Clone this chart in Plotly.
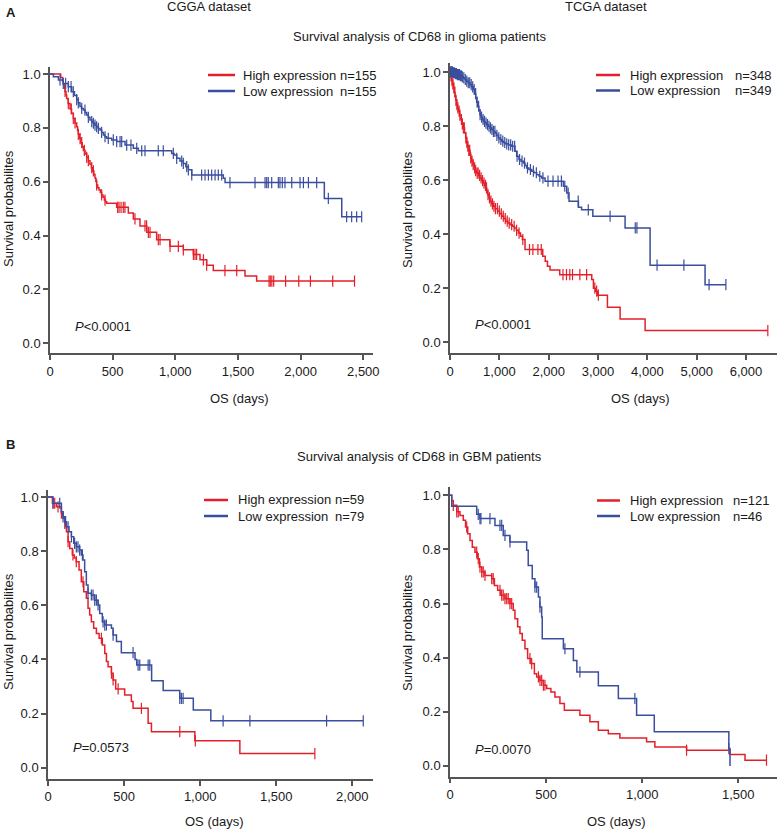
import bisect
import plotly.graph_objects as go

# ---------------- DATA ----------------
# Panel A, CGGA dataset (glioma)
tl_high_t = [0, 85, 100, 106, 115, 120, 128, 133, 145, 160, 172, 186, 200, 213, 220, 226, 237, 247, 257, 266,
             280, 293, 306, 319, 330, 340, 350, 359, 366, 372, 381, 391, 402, 412, 423, 434, 443, 452,
             532, 625, 665, 718, 772, 851, 957, 1064, 1144, 1197, 1250, 1303, 1556, 1649]
tl_high_s = [1.0, 0.987, 0.974, 0.961, 0.948, 0.935, 0.922, 0.909, 0.890, 0.870, 0.854, 0.835, 0.818, 0.804, 0.790, 0.776, 0.760, 0.745, 0.730, 0.716,
             0.703, 0.690, 0.678, 0.665, 0.652, 0.640, 0.627, 0.614, 0.601, 0.588, 0.578, 0.569, 0.560, 0.551, 0.542, 0.532, 0.526, 0.520,
             0.505, 0.484, 0.462, 0.436, 0.412, 0.385, 0.360, 0.347, 0.330, 0.310, 0.290, 0.270, 0.250, 0.231]
tl_high_c = [120, 146, 170, 186, 200, 226, 240, 253, 274, 293, 306, 333, 346, 372, 412, 439, 540, 551, 567, 585, 598,
             678, 758, 771, 785, 798, 864, 878, 958, 1024, 1064, 1144, 1157, 1170, 1224, 1250, 1396, 1490,
             1748, 1758, 1770, 1785, 1880, 1985, 2078, 2256, 2430]
tl_low_t = [0, 27, 67, 106, 146, 173, 195, 213, 226, 239, 252, 266, 280, 293, 306, 319, 333, 346, 359, 372,
            386, 399, 412, 426, 439, 452, 492, 532, 599, 665, 705, 971, 990, 1011, 1037, 1064, 1084, 1104, 1131, 1383,
            1397, 2189, 2328]
tl_low_s = [1.0, 0.99, 0.978, 0.965, 0.953, 0.934, 0.92, 0.905, 0.893, 0.879, 0.872, 0.866, 0.857, 0.848, 0.839, 0.829, 0.823, 0.817, 0.81, 0.804,
            0.798, 0.792, 0.783, 0.773, 0.767, 0.761, 0.755, 0.749, 0.736, 0.724, 0.715, 0.705, 0.699, 0.687, 0.677, 0.668, 0.656, 0.644, 0.625, 0.613,
            0.597, 0.538, 0.470]
tl_low_c = [80, 106, 125, 146, 168, 186, 213, 226, 253, 279, 306, 333, 346, 359, 372, 386, 412, 439, 465, 505, 532, 559, 572,
            612, 646, 692, 732, 758, 864, 904, 984, 1011, 1051, 1064, 1091, 1104, 1131, 1210, 1237, 1264, 1290, 1317, 1343, 1370,
            1436, 1636, 1716, 1729, 1742, 1769, 1822, 1835, 1854, 1875, 1929, 1995, 2022, 2062, 2128, 2221, 2367, 2407, 2447, 2487]

# Panel A, TCGA dataset (glioma)
tr_high_t = [0, 15, 34, 50, 68, 85, 101, 118, 135, 150, 169, 195, 223, 245, 270, 295, 318, 338, 358, 380,
             406, 420, 439, 465, 493, 515, 541, 575, 608, 640, 676, 700, 723, 745, 764, 790, 811, 845, 879, 920,
             967, 1005, 1048, 1090, 1129, 1170, 1217, 1260, 1305, 1345, 1386, 1430, 1467, 1521,
             1880, 1930, 1975, 2028, 2224, 2873, 2907, 2954, 2995, 3191, 3448, 3955]
tr_high_s = [1.0, 0.985, 0.968, 0.955, 0.941, 0.925, 0.91, 0.895, 0.879, 0.867, 0.855, 0.84, 0.824, 0.808, 0.793, 0.775, 0.756, 0.74, 0.725, 0.71,
             0.694, 0.682, 0.67, 0.657, 0.645, 0.635, 0.626, 0.617, 0.608, 0.598, 0.589, 0.58, 0.571, 0.558, 0.546, 0.534, 0.522, 0.512, 0.503, 0.494,
             0.485, 0.475, 0.466, 0.457, 0.448, 0.441, 0.435, 0.429, 0.423, 0.414, 0.404, 0.392, 0.38, 0.343,
             0.318, 0.30, 0.281, 0.267, 0.25, 0.232, 0.2, 0.189, 0.174, 0.129, 0.086, 0.043]
tr_high_c = [20, 40, 60, 80, 100, 120, 140, 160, 185, 200, 230, 250, 270, 290, 320, 340, 360, 380, 400, 420, 445, 470,
             500, 520, 550, 570, 600, 630, 660, 690, 720, 740, 770, 800, 830, 860, 890, 920, 960, 1000, 1040, 1080,
             1120, 1160, 1200, 1250, 1300, 1350, 1400, 1476, 1612, 1680, 1782, 1850, 2290, 2361, 2428, 2483, 2632,
             2769, 2935, 2973, 3007, 6442]
tr_low_t = [0, 60, 101, 150, 203, 240, 270, 305, 338, 370, 406, 440, 473, 500, 521, 541, 561, 585, 608, 630,
            656, 680, 710, 740, 777, 810, 845, 880, 913, 945, 980, 1015, 1048, 1080, 1115, 1180, 1251, 1318, 1352, 1399,
            1440, 1487, 1520, 1555, 1600, 1656, 1700, 1758, 1810, 1859, 1927, 2298, 2366, 2413, 2603, 2667, 2895, 3549, 4056, 5170]
tr_low_s = [1.0, 0.997, 0.994, 0.99, 0.986, 0.982, 0.978, 0.972, 0.966, 0.96, 0.953, 0.945, 0.935, 0.92, 0.904, 0.888, 0.873, 0.858, 0.842, 0.833,
            0.824, 0.817, 0.811, 0.805, 0.799, 0.793, 0.787, 0.78, 0.774, 0.765, 0.756, 0.75, 0.744, 0.739, 0.734, 0.73, 0.725, 0.707, 0.688, 0.676,
            0.67, 0.663, 0.654, 0.645, 0.639, 0.633, 0.627, 0.62, 0.614, 0.608, 0.596, 0.577, 0.552, 0.522, 0.499, 0.49, 0.466, 0.423, 0.285, 0.213]
tr_low_c = [10, 30, 50, 70, 90, 110, 130, 150, 170, 190, 210, 230, 250, 280, 310, 340, 370, 400, 430, 460, 490, 520, 550,
            580, 610, 640, 670, 700, 730, 760, 790, 820, 850, 880, 910, 950, 990, 1030, 1070, 1110, 1150, 1190, 1230, 1270,
            1310, 1360, 1410, 1460, 1510, 1570, 1630, 1690, 1750, 1820, 1884, 1986, 2088, 2190, 2258, 2327, 2395, 2599,
            2803, 3245, 3755, 3789, 4197, 4741, 5251, 5592]

# Panel B, CGGA dataset (GBM)
bl_high_t = [0, 29, 55, 88, 99, 110, 121, 132, 143, 160, 173, 186, 204, 219, 235, 252, 263, 274, 285, 300,
             318, 336, 357, 373, 384, 395, 417, 428, 445, 504, 548, 559, 658, 680, 965, 1261]
bl_high_s = [1.0, 0.977, 0.964, 0.94, 0.921, 0.903, 0.872, 0.835, 0.81, 0.786, 0.775, 0.761, 0.73, 0.687, 0.65, 0.626, 0.589, 0.564, 0.539, 0.515,
             0.496, 0.478, 0.453, 0.422, 0.392, 0.373, 0.349, 0.324, 0.291, 0.268, 0.244, 0.219, 0.164, 0.133, 0.099, 0.052]
bl_high_c = [33, 44, 66, 88, 110, 132, 164, 186, 230, 351, 417, 428, 461, 614, 866, 968, 1754]
bl_low_t = [0, 33, 88, 99, 110, 121, 138, 154, 169, 186, 208, 219, 230, 241, 252, 263, 285, 307, 329, 340,
            357, 373, 417, 428, 450, 482, 572, 583, 681, 757, 866, 955, 1070]
bl_low_s = [1.0, 0.977, 0.946, 0.927, 0.909, 0.89, 0.872, 0.853, 0.829, 0.816, 0.804, 0.786, 0.767, 0.724, 0.675, 0.644, 0.638, 0.619, 0.601, 0.57,
            0.539, 0.527, 0.515, 0.49, 0.466, 0.425, 0.40, 0.379, 0.321, 0.285, 0.256, 0.213, 0.173]
bl_low_c = [33, 77, 99, 116, 132, 154, 175, 186, 197, 208, 226, 263, 285, 296, 307, 318, 329, 362, 373, 384, 428,
            559, 592, 603, 658, 669, 866, 877, 888, 1151, 1327, 1831, 2072]

# Panel B, TCGA dataset (GBM)
br_high_t = [0, 9, 17, 35, 52, 69, 81, 92, 104, 116, 130, 142, 153, 165, 182, 217, 231, 248, 265, 286,
             312, 329, 338, 352, 364, 376, 390, 404, 421, 439, 451, 468, 486, 503, 525, 546, 572, 595, 676, 728,
             772, 824, 884, 1023, 1066, 1231, 1457, 1535]
br_high_s = [1.0, 0.98, 0.963, 0.939, 0.926, 0.908, 0.883, 0.858, 0.833, 0.808, 0.79, 0.766, 0.735, 0.717, 0.704, 0.692, 0.667, 0.649, 0.631, 0.618,
             0.6, 0.575, 0.544, 0.514, 0.489, 0.464, 0.433, 0.397, 0.378, 0.341, 0.329, 0.316, 0.298, 0.286, 0.273, 0.255, 0.231, 0.206, 0.187, 0.163,
             0.132, 0.119, 0.103, 0.089, 0.07, 0.058, 0.042, 0.021]
br_high_c = [17, 35, 43, 87, 139, 147, 156, 165, 173, 182, 217, 225, 260, 269, 277, 286, 295, 303, 312, 321,
             416, 425, 460, 468, 477, 486, 494, 1231, 1647]
br_low_t = [0, 9, 139, 156, 234, 277, 312, 399, 407, 428, 442, 460, 468, 477, 480, 590, 642, 660, 772, 876, 971, 1063, 1451, 1457]
br_low_s = [1.0, 0.96, 0.93, 0.914, 0.889, 0.852, 0.828, 0.797, 0.741, 0.692, 0.661, 0.624, 0.587, 0.55, 0.47, 0.433, 0.39, 0.347, 0.296, 0.249, 0.187, 0.126, 0.064, 0.0]
br_low_c = [147, 156, 161, 208, 260, 269, 286, 312, 442, 451, 468, 598, 676, 962, 1451]

x_ticks_tl = [0, 500, 1000, 1500, 2000, 2500]
x_ticks_tr = [0, 1000, 2000, 3000, 4000, 5000, 6000]
x_ticks_bl = [0, 500, 1000, 1500, 2000]
x_ticks_br = [0, 500, 1000, 1500]
y_ticks = [0.0, 0.2, 0.4, 0.6, 0.8, 1.0]

legend_counts = {
    "tl": ("n=155", "n=155"),
    "tr": ("n=348", "n=349"),
    "bl": ("n=59", "n=79"),
    "br": ("n=121", "n=46"),
}
p_values = {"tl": "<0.0001", "tr": "<0.0001", "bl": "=0.0573", "br": "=0.0070"}

# ---------------- STYLE ----------------
W, H = 779, 829
RED = "#E3202A"
BLUE = "#3A4E9F"
AXC = "#555555"
TXT = "#1a1a1a"
FONT = "Liberation Sans, Arial, sans-serif"
FS = 13


def px_x(p):
    return p / W


def px_y(p):
    return 1 - p / H


def surv_at(ts, ss, t):
    i = bisect.bisect_right(ts, t) - 1
    return ss[max(i, 0)]


fig = go.Figure()

panels = {
    # key: (axis suffix, high, low, xdomain px, ydomain px, xrange, yrange, xticks)
    "tl": ("", (tl_high_t, tl_high_s, tl_high_c), (tl_low_t, tl_low_s, tl_low_c),
           (50, 372.7), (66.7, 353.3), [0, 2575], [-0.037, 1.027], x_ticks_tl),
    "tr": ("2", (tr_high_t, tr_high_s, tr_high_c), (tr_low_t, tr_low_s, tr_low_c),
           (450, 776.7), (63.3, 353.3), [0, 6622], [-0.041, 1.032], x_ticks_tr),
    "bl": ("3", (bl_high_t, bl_high_s, bl_high_c), (bl_low_t, bl_low_s, bl_low_c),
           (48, 373.3), (490, 779), [0, 2138], [-0.042, 1.026], x_ticks_bl),
    "br": ("4", (br_high_t, br_high_s, br_high_c), (br_low_t, br_low_s, br_low_c),
           (450, 776.7), (486.7, 776.7), [0, 1700], [-0.040, 1.032], x_ticks_br),
}

layout_axes = {}
for key, (suf, high, low, xd, yd, xr, yr, xt) in panels.items():
    xa, ya = "x" + suf, "y" + suf
    for (ts, ss, cs), col in ((high, RED), (low, BLUE)):
        end = max(ts[-1], cs[-1] if cs else ts[-1])
        xs = list(ts) + ([end] if end > ts[-1] else [])
        ys = list(ss) + ([ss[-1]] if end > ts[-1] else [])
        fig.add_trace(go.Scatter(x=xs, y=ys, mode="lines", line=dict(color=col, width=1.5, shape="hv"),
                                 xaxis=xa, yaxis=ya, showlegend=False, hoverinfo="skip"))
        fig.add_trace(go.Scatter(x=cs, y=[surv_at(ts, ss, c) for c in cs], mode="markers",
                                 marker=dict(symbol="line-ns", size=8, line=dict(color=col, width=1.2)),
                                 xaxis=xa, yaxis=ya, showlegend=False, hoverinfo="skip"))
    common = dict(showline=True, linecolor=AXC, linewidth=1.5, ticks="outside", ticklen=5, tickwidth=1.5,
                  tickcolor=AXC, showgrid=False, zeroline=False, automargin=False,
                  tickfont=dict(family=FONT, size=FS, color=TXT))
    layout_axes["xaxis" + suf] = dict(common, domain=[px_x(xd[0]), px_x(xd[1])], range=xr,
                                      tickvals=xt, tickformat=",d", anchor=ya)
    layout_axes["yaxis" + suf] = dict(common, domain=[px_y(yd[1]), px_y(yd[0])], range=yr,
                                      tickvals=y_ticks, tickformat=".1f", anchor=xa)

annotations = []
shapes = []


def txt(x, y, s, xanchor="center", yanchor="middle", bold=False, angle=0):
    annotations.append(dict(x=px_x(x), y=px_y(y), xref="paper", yref="paper", text=("<b>%s</b>" % s) if bold else s,
                            showarrow=False, xanchor=xanchor, yanchor=yanchor, textangle=angle,
                            font=dict(family=FONT, size=FS, color=TXT)))


txt(4, 12, "A", xanchor="left", bold=True)
txt(4, 444, "B", xanchor="left", bold=True)
txt(209, 7, "CGGA dataset")
txt(606, 7, "TCGA dataset")
txt(419, 36, "Survival analysis of CD68 in glioma patients")
txt(419, 456, "Survival analysis of CD68 in GBM patients")
txt(239, 398, "OS (days)")
txt(640, 398, "OS (days)")
txt(214, 821, "OS (days)")
txt(616, 821, "OS (days)")
for x, y in ((8, 209), (407, 209), (8, 632), (407, 632)):
    txt(x, y, "Survival probabilites", angle=-90)

# legends: (line x0, x1, row1 y, row2 y, label x, n x)
leg_pos = {
    "tl": (208, 235, 75, 91, 241, 338),
    "tr": (596, 620, 75, 90.5, 628, 733),
    "bl": (204, 228, 500, 516, 236, 333),
    "br": (597, 620, 500.5, 516, 628, 731),
}
for key, (lx0, lx1, y1, y2, tx, nx) in leg_pos.items():
    for yy, col, lab, n in ((y1, RED, "High expression", legend_counts[key][0]),
                            (y2, BLUE, "Low expression", legend_counts[key][1])):
        shapes.append(dict(type="line", xref="paper", yref="paper", x0=px_x(lx0), x1=px_x(lx1),
                           y0=px_y(yy), y1=px_y(yy), line=dict(color=col, width=2.5)))
        txt(tx, yy, lab, xanchor="left")
        txt(nx, yy, n, xanchor="left")

p_pos = {"tl": (73, 326), "tr": (473, 325), "bl": (71, 747.5), "br": (473, 749)}
for key, (x, y) in p_pos.items():
    txt(x, y, "<i>P</i>" + p_values[key].replace("<", "&lt;"), xanchor="left")

fig.update_layout(width=W, height=H, autosize=False, margin=dict(l=0, r=0, t=0, b=0),
                  paper_bgcolor="white", plot_bgcolor="white", showlegend=False,
                  annotations=annotations, shapes=shapes, **layout_axes)

fig.write_html("out.html", config={"displayModeBar": False},
               post_script="document.body.style.margin='0px';document.body.style.overflow='hidden';")
